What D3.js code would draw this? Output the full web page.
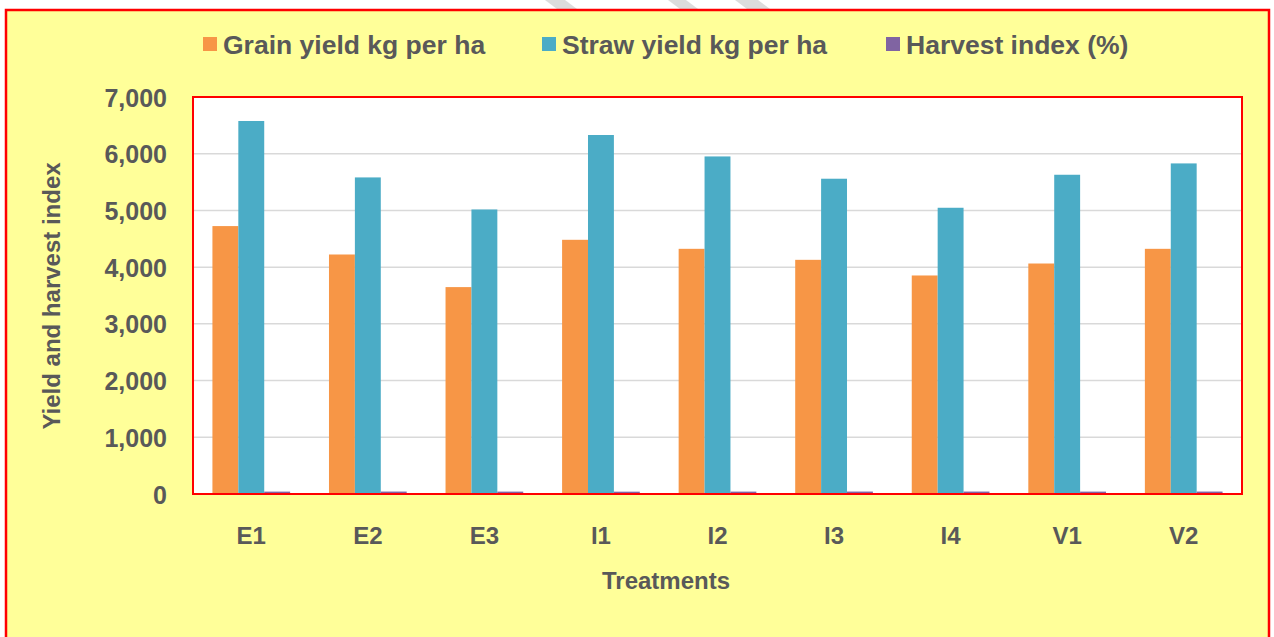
<!DOCTYPE html>
<html>
<head>
<meta charset="utf-8">
<script src="https://cdn.jsdelivr.net/npm/d3@7"></script>
<style>
  body { margin: 0; background: #fff; }
  text { font-family: "Liberation Sans", Arial, sans-serif; font-weight: bold; fill: #595959; }
</style>
</head>
<body>
<svg id="chart" width="1274" height="637"></svg>
<script>
// data
const treatments = ["E1", "E2", "E3", "I1", "I2", "I3", "I4", "V1", "V2"];
const seriesNames = ["Grain yield kg per ha", "Straw yield kg per ha", "Harvest index (%)"];
const grainYield = [4724, 4223, 3648, 4482, 4323, 4129, 3853, 4064, 4323];
const strawYield = [6577, 5582, 5017, 6330, 5952, 5559, 5047, 5629, 5829];
const harvestIndex = [42, 43, 42, 41, 42, 43, 43, 42, 43];
const yTicks = [0, 1000, 2000, 3000, 4000, 5000, 6000, 7000];
const colors = ["#F79646", "#4BACC6", "#8064A2"];

const svg = d3.select("#chart");
const plot = { left: 193, right: 1242, top: 97, bottom: 494 };

// faint watermark strokes at the top
const marks = [[545, 565], [668, 686], [735, 758]];
marks.forEach(m => {
    svg.append("polygon")
        .attr("points", `${m[0]},0 ${m[1]},0 ${m[1] + 16},12 ${m[0] + 16},12`)
        .style("fill", "#dcdcdc");
});

// outer yellow frame
svg.append("rect")
    .attr("x", 6).attr("y", 10)
    .attr("width", 1263).attr("height", 640)
    .style("fill", "#FFFF99")
    .style("stroke", "#FF0000")
    .style("stroke-width", 2.5);

// plot area
svg.append("rect")
    .attr("x", plot.left).attr("y", plot.top)
    .attr("width", plot.right - plot.left).attr("height", plot.bottom - plot.top)
    .style("fill", "#fff");

const x0 = d3.scaleBand().domain(treatments).range([plot.left, plot.right]);
const x1 = d3.scaleBand().domain(d3.range(3)).range([0, x0.bandwidth()]).paddingOuter(0.75);
const y = d3.scaleLinear().domain([0, 7000]).range([plot.bottom, plot.top]);

// gridlines
svg.append("g").selectAll("line")
    .data(yTicks.slice(1, -1))
    .join("line")
    .attr("x1", plot.left).attr("x2", plot.right)
    .attr("y1", d => y(d)).attr("y2", d => y(d))
    .style("stroke", "#D9D9D9")
    .style("stroke-width", 1.5);

const rows = treatments.map((t, i) => ({
    t: t,
    vals: [grainYield[i], strawYield[i], harvestIndex[i]]
}));

const groups = svg.append("g").selectAll("g")
    .data(rows)
    .join("g")
    .attr("transform", d => `translate(${x0(d.t)},0)`);

groups.selectAll("rect")
    .data(d => d.vals.map((v, k) => ({ k: k, v: v })))
    .join("rect")
    .attr("x", d => x1(d.k))
    .attr("width", x1.bandwidth())
    .attr("y", d => y(d.v))
    .attr("height", d => y(0) - y(d.v))
    .style("fill", d => colors[d.k]);

// plot border
svg.append("rect")
    .attr("x", plot.left).attr("y", plot.top)
    .attr("width", plot.right - plot.left).attr("height", plot.bottom - plot.top)
    .style("fill", "none")
    .style("stroke", "#FF0000")
    .style("stroke-width", 2);

// y axis labels
const yAxis = svg.append("g")
    .attr("transform", `translate(${plot.left - 26},0)`)
    .call(d3.axisLeft(y).tickValues(yTicks).tickFormat(d3.format(",")).tickSize(0).tickPadding(0));
yAxis.select(".domain").remove();
yAxis.selectAll("text")
    .style("font-size", "25px")
    .style("font-family", "'Liberation Sans', Arial, sans-serif")
    .style("fill", "#595959")
    .attr("dy", "0.36em");

// x axis labels
const xAxis = svg.append("g")
    .attr("transform", `translate(0,${plot.bottom})`)
    .call(d3.axisBottom(x0).tickSize(0).tickPadding(0));
xAxis.select(".domain").remove();
xAxis.selectAll("text")
    .style("font-size", "24px")
    .style("font-family", "'Liberation Sans', Arial, sans-serif")
    .style("fill", "#595959")
    .attr("dy", null)
    .attr("y", 50);

// axis titles
svg.append("text")
    .attr("x", 666).attr("y", 589)
    .attr("text-anchor", "middle")
    .style("font-size", "24px")
    .text("Treatments");

svg.append("text")
    .attr("transform", "translate(60,296) rotate(-90)")
    .attr("text-anchor", "middle")
    .style("font-size", "24px")
    .text("Yield and harvest index");

// legend
const legendX = [203, 542, 886];
const legend = svg.append("g").selectAll("g")
    .data(seriesNames)
    .join("g")
    .attr("transform", (d, i) => `translate(${legendX[i]},0)`);
legend.append("rect")
    .attr("x", 0).attr("y", 37)
    .attr("width", 14).attr("height", 14)
    .style("fill", (d, i) => colors[i]);
legend.append("text")
    .attr("x", 20).attr("y", 54)
    .style("font-size", "26.5px")
    .text(d => d);
</script>
</body>
</html>
